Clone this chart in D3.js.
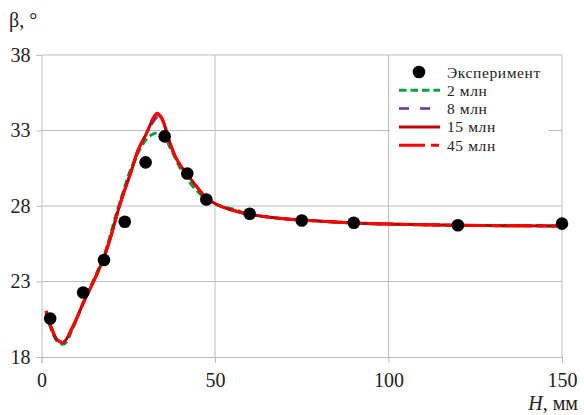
<!DOCTYPE html>
<html><head><meta charset="utf-8">
<script src="https://cdn.jsdelivr.net/npm/d3@7/dist/d3.min.js"></script>
<style>body{margin:0;background:#fff}svg{display:block}</style>
</head><body><svg id="c" width="584" height="415"></svg>
<script>
const xTicks = [0, 50, 100, 150];
const yTicks = [18, 23, 28, 33, 38];
const expX = [2.5, 12, 18, 24, 30, 35.5, 42, 47.5, 60, 75, 90, 120, 150];
const expY = [20.55, 22.27, 24.42, 26.96, 30.89, 32.61, 30.15, 28.43, 27.49, 27.04, 26.89, 26.73, 26.83];
const x2 = [1.3, 3, 4.5, 6.5, 9, 12, 15, 18, 20, 21.7, 23.5, 25.5, 28, 30, 32, 34, 35.5, 37, 38.5, 40, 42, 44, 47.6, 51, 55, 60, 70, 80, 90, 100, 120, 150];
const y2 = [20.9, 19.7, 19.05, 18.85, 19.9, 21.6, 23.1, 24.7, 26.2, 27.6, 28.9, 30.3, 31.6, 32.35, 32.75, 32.85, 32.6, 31.9, 31.2, 30.5, 29.8, 29.2, 28.45, 28.05, 27.8, 27.45, 27.15, 27.0, 26.88, 26.8, 26.72, 26.68];
const xs = [1.3, 3, 4.5, 6.3, 9, 12, 15, 17.8, 20, 22.6, 26, 27.9, 30.3, 32, 33.3, 34.5, 35.6, 37, 38.5, 40, 42.3, 45, 47.6, 51, 54.3, 60, 70, 80, 90, 100, 120, 150];
const y8 = [21.0, 19.8, 19.15, 18.97, 20.0, 21.55, 23.0, 24.47, 26.0, 28.1, 30.4, 31.7, 32.8, 33.5, 33.85, 33.75, 33.2, 32.2, 31.3, 30.7, 30.0, 29.2, 28.5, 28.05, 27.77, 27.45, 27.15, 27.0, 26.88, 26.8, 26.72, 26.68];
const y15 = [21.05, 19.85, 19.15, 18.97, 20.0, 21.55, 23.0, 24.47, 26.0, 28.1, 30.4, 31.73, 32.83, 33.7, 34.1, 33.85, 33.27, 32.2, 31.3, 30.7, 30.0, 29.2, 28.5, 28.05, 27.77, 27.45, 27.15, 27.0, 26.88, 26.8, 26.72, 26.68];
const y45 = [21.06, 19.85, 19.15, 18.97, 20.0, 21.55, 23.0, 24.47, 26.0, 28.1, 30.4, 31.73, 32.83, 33.75, 34.15, 33.9, 33.27, 32.2, 31.3, 30.7, 30.0, 29.2, 28.5, 28.05, 27.77, 27.45, 27.15, 27.0, 26.88, 26.8, 26.72, 26.68];
const seriesNames = ["Эксперимент", "2 млн", "8 млн", "15 млн", "45 млн"];

const FONT = "'Liberation Serif', 'Times New Roman', serif";
const svg = d3.select("#c");
const x = d3.scaleLinear().domain([0, 150]).range([41.5, 562]);
const y = d3.scaleLinear().domain([18, 38]).range([357, 55]);
const grid = "#bdbdbd";

svg.append("g").selectAll("line").data(yTicks.slice(1)).join("line")
  .attr("x1", x(0)).attr("x2", x(150)).attr("y1", d => y(d)).attr("y2", d => y(d))
  .attr("stroke", grid).attr("stroke-width", 1);
svg.append("g").selectAll("line").data(xTicks.slice(1)).join("line")
  .attr("x1", d => x(d)).attr("x2", d => x(d)).attr("y1", y(38)).attr("y2", y(18))
  .attr("stroke", grid).attr("stroke-width", 1);

const xAxis = d3.axisBottom(x).tickValues(xTicks).tickSize(6).tickPadding(10).tickFormat(d3.format("d"));
const gx = svg.append("g").attr("transform", `translate(0,${y(18)})`).call(xAxis);
const yAxis = d3.axisLeft(y).tickValues(yTicks).tickSize(5).tickPadding(6).tickFormat(d3.format("d"));
const gy = svg.append("g").attr("transform", `translate(${x(0)},0)`).call(yAxis);
[gx, gy].forEach(g => {
  g.attr("font-family", FONT).attr("font-size", 20);
  g.select(".domain").attr("stroke", grid).attr("stroke-width", 1);
  g.selectAll(".tick line").attr("stroke", grid);
  g.selectAll(".tick text").attr("font-family", FONT).attr("font-size", 20).attr("fill", "#222");
});

const line = (xv, yv) => d3.line().curve(d3.curveCatmullRom.alpha(0.5))
  .x((d, i) => x(xv[i])).y(d => y(d))(yv);
const styles = [
  {xv: x2, yv: y2, color: "#00a040", w: 3, dash: "7.5,4"},
  {xv: xs, yv: y8, color: "#7030a0", w: 2.5, dash: "10,11"},
  {xv: xs, yv: y15, color: "#c00000", w: 3, dash: null},
  {xv: xs, yv: y45, color: "#ff0000", w: 3, dash: "26,6,8,6"}
];
styles.forEach(s => {
  svg.append("path").attr("d", line(s.xv, s.yv)).attr("fill", "none")
    .attr("stroke", s.color).attr("stroke-width", s.w)
    .attr("stroke-dasharray", s.dash).attr("stroke-linejoin", "round");
});

svg.append("g").selectAll("circle").data(expY).join("circle")
  .attr("cx", (d, i) => x(expX[i])).attr("cy", d => y(d)).attr("r", 6.3).attr("fill", "#000");

const lg = svg.append("g");
lg.append("rect").attr("x", 390).attr("y", 58).attr("width", 158).attr("height", 98).attr("fill", "#fff");
const rowY = [72, 90.3, 108.6, 126.9, 145.2];
seriesNames.forEach((n, i) => {
  if (i === 0) {
    lg.append("circle").attr("cx", 419).attr("cy", rowY[i]).attr("r", 6.3).attr("fill", "#000");
  } else {
    const s = styles[i - 1];
    lg.append("line").attr("x1", 399).attr("x2", 440).attr("y1", rowY[i]).attr("y2", rowY[i])
      .attr("stroke", s.color).attr("stroke-width", s.w).attr("stroke-dasharray", s.dash);
  }
  lg.append("text").attr("x", 447).attr("y", rowY[i] + 5.5).attr("font-size", 15.5)
    .attr("letter-spacing", 0.6)
    .attr("font-family", FONT).attr("fill", "#222").text(n);
});

svg.append("text").attr("x", 9).attr("y", 27).attr("font-size", 20)
  .attr("font-family", FONT).attr("fill", "#222").text("β, °");
const t = svg.append("text").attr("x", 578).attr("y", 410).attr("font-size", 20)
  .attr("font-family", FONT).attr("fill", "#222").attr("text-anchor", "end");
t.append("tspan").attr("font-style", "italic").text("H");
t.append("tspan").text(", мм");
</script></body></html>
